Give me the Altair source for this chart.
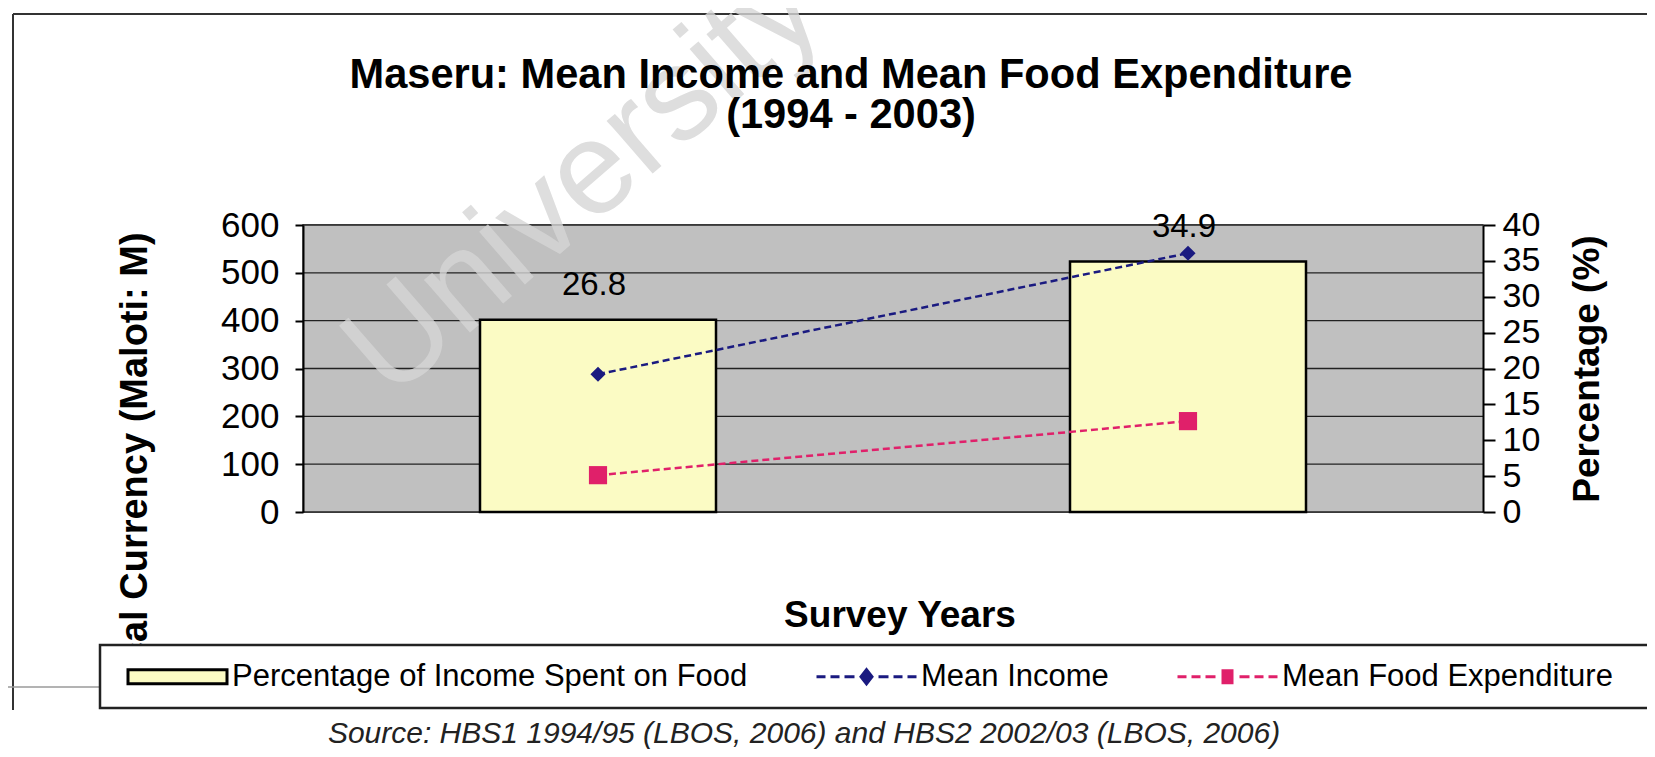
import altair as alt
import pandas as pd

# ---------------- data ----------------
years = ["1994/5", "2002/3"]
pct_income_on_food = [26.8, 34.9]          # right axis (%)
mean_income = [288, 541]                   # left axis (Maloti)
mean_food_expenditure = [77, 190]          # left axis (Maloti)

series_names = ["Percentage of Income Spent on Food", "Mean Income", "Mean Food Expenditure"]
left_ticks = [0, 100, 200, 300, 400, 500, 600]
right_ticks = [0, 5, 10, 15, 20, 25, 30, 35, 40]

title_line1 = "Maseru: Mean Income and Mean Food Expenditure"
title_line2 = "(1994 - 2003)"
x_title = "Survey Years"
source_text = "Source: HBS1 1994/95 (LBOS, 2006) and HBS2 2002/03 (LBOS, 2006)"
watermark_text = "University of Cape Town"

# ---------------- styles ----------------
FONT = "Liberation Sans"
BAR_FILL = "#fbfbc4"
NAVY = "#1a1a80"
PINK = "#e0206a"
PLOT_BG = "#c0c0c0"
series_fill = [BAR_FILL, NAVY, PINK]
series_stroke = ["#000000", NAVY, PINK]
# custom legend symbols (unit = sqrt(symbolSize)/2 px)
dash = "M-5.0,0H-4.1M-3.6,0H-2.7M-2.2,0H-1.2M1.2,0H2.2M2.7,0H3.6M4.1,0H5.0"
series_shape = [
    "M-4.95,-0.7H4.95V0.7H-4.95Z",
    dash + "M0,-0.7L0.55,0L0,0.7L-0.55,0Z",
    dash + "M-0.45,-0.6H0.45V0.6H-0.45Z",
]

df = pd.DataFrame({
    "year": years,
    "pct": pct_income_on_food,
    "income": mean_income,
    "food": mean_food_expenditure,
})
legend_df = pd.DataFrame({"series": series_names})
grid_df = pd.DataFrame({"v": left_ticks})
one = pd.DataFrame({"k": [0]})

x_scale = alt.Scale(type="band", domain=years, paddingInner=0, paddingOuter=0)
x_axis = alt.Axis(
    title=None, labelAngle=0, tickBand="extent", tickSize=10, tickWidth=2,
    tickColor="black", domainColor="black", domainWidth=2, zindex=1,
    labelFont=FONT, labelFontSize=31, labelColor="black", labelPadding=38,
    labelBaseline="middle", grid=False,
)
x_plain = alt.X("year:N", scale=x_scale, axis=None, bandPosition=0.5)

left_scale = alt.Scale(domain=[0, 600], nice=False, zero=True)
right_scale = alt.Scale(domain=[0, 40], nice=False, zero=True)

background = alt.Chart(one).mark_rect(color=PLOT_BG).encode(
    x=alt.value(0), x2=alt.value("width"), y=alt.value(0), y2=alt.value("height"))

grid = alt.Chart(grid_df).mark_rule(color="#222222", strokeWidth=1.4).encode(
    y=alt.Y("v:Q", scale=left_scale, axis=None))

bars = alt.Chart(df).mark_bar(
    width=alt.RelativeBandSize(0.4), fill=BAR_FILL, stroke="black", strokeWidth=2.5
).encode(
    x=alt.X("year:N", scale=x_scale, axis=x_axis),
    y=alt.Y("pct:Q", scale=right_scale, axis=alt.Axis(
        orient="right", values=right_ticks, grid=False, title="Percentage (%)", zindex=1,
        tickSize=12, tickWidth=2, tickColor="black", domainColor="black", domainWidth=2,
        labelFont=FONT, labelFontSize=34, labelColor="black", labelPadding=7,
        labelOverlap=False, labelFlush=False,
        titleFont=FONT, titleFontSize=37, titleFontWeight="bold", titleColor="black",
        titleAngle=270, titleBaseline="middle", titleAlign="center", titleX=104, titleY=143.5,
    )),
)

bar_labels = alt.Chart(df).mark_text(
    dy=-35, dx=-4, font=FONT, fontSize=33, color="black", baseline="middle"
).encode(
    x=x_plain,
    y=alt.Y("pct:Q", scale=right_scale, axis=None),
    text=alt.Text("pct:Q", format=".1f"),
)

income_line = alt.Chart(df).mark_line(
    color=NAVY, strokeDash=[7, 4], strokeWidth=2.5
).encode(
    x=x_plain,
    y=alt.Y("income:Q", scale=left_scale, axis=alt.Axis(
        orient="left", values=left_ticks, grid=False, zindex=1,
        title="Local Currency (Maloti: M)",
        tickSize=8, tickWidth=2, tickColor="black", domainColor="black", domainWidth=2,
        labelFont=FONT, labelFontSize=35, labelColor="black", labelPadding=16,
        labelOverlap=False, labelFlush=False,
        titleFont=FONT, titleFontSize=38, titleFontWeight="bold", titleColor="black",
        titleAngle=270, titleBaseline="middle", titleAlign="center", titleX=-168, titleY=245.5,
    )),
)
income_pts = alt.Chart(df).mark_point(
    shape="diamond", filled=True, size=230, color=NAVY, opacity=1
).encode(x=x_plain, y=alt.Y("income:Q", scale=left_scale, axis=None))

food_line = alt.Chart(df).mark_line(
    color=PINK, strokeDash=[7, 4], strokeWidth=2.5
).encode(x=x_plain, y=alt.Y("food:Q", scale=left_scale, axis=None))
food_pts = alt.Chart(df).mark_point(
    shape="square", filled=True, size=330, color=PINK, opacity=1
).encode(x=x_plain, y=alt.Y("food:Q", scale=left_scale, axis=None))

legend_kw = dict(
    orient="none", legendX=-203, legendY=420, direction="horizontal", columns=3,
    title=" ", titleOrient="right", titlePadding=26, titleFontSize=4,
    fillColor="white", strokeColor="#222222", padding=16, zindex=2,
    symbolSize=400, symbolStrokeWidth=3, symbolOffset=46, labelOffset=39,
    symbolFillColor="white",
    labelFont=FONT, labelFontSize=31, labelColor="black", labelLimit=2000,
    columnPadding=57,
)
legend_layer = alt.Chart(legend_df).mark_point(filled=True, opacity=0).encode(
    fill=alt.Fill("series:N", scale=alt.Scale(domain=series_names, range=series_fill),
                  legend=alt.Legend(**legend_kw)),
    stroke=alt.Stroke("series:N", scale=alt.Scale(domain=series_names, range=series_stroke),
                      legend=alt.Legend(**legend_kw)),
    shape=alt.Shape("series:N", scale=alt.Scale(domain=series_names, range=series_shape),
                    legend=alt.Legend(**legend_kw)),
)

frame_top = alt.Chart(one).mark_rule(color="#333333", strokeWidth=2).encode(
    x=alt.value(-290), x2=alt.value(1360), y=alt.value(-211))
frame_left = alt.Chart(one).mark_rule(color="#333333", strokeWidth=2).encode(
    x=alt.value(-290), y=alt.value(-211), y2=alt.value(485))
page_line = alt.Chart(one).mark_rule(color="#9a9a9a", strokeWidth=1.5).encode(
    x=alt.value(-296), x2=alt.value(-203), y=alt.value(462))

x_title_text = alt.Chart(one).mark_text(
    text=x_title, font=FONT, fontSize=37, fontWeight="bold", color="black",
    align="center", baseline="middle"
).encode(x=alt.value(597), y=alt.value(391))

source = alt.Chart(one).mark_text(
    text=source_text, font=FONT, fontSize=30, fontStyle="italic", color="#222222",
    align="center", baseline="middle"
).encode(x=alt.value(501), y=alt.value(509))

watermark = alt.Chart(one).mark_text(
    text=watermark_text, font=FONT, fontSize=132, color="#d6d6d6", opacity=0.8,
    angle=319, align="left", baseline="alphabetic"
).encode(x=alt.value(88), y=alt.value(176))

title1 = alt.Chart(one).mark_text(
    text=title_line1, font=FONT, fontSize=41.6, fontWeight="bold", color="black",
    align="center", baseline="middle"
).encode(x=alt.value(548), y=alt.value(-149))
title2 = alt.Chart(one).mark_text(
    text=title_line2, font=FONT, fontSize=41.6, fontWeight="bold", color="black",
    align="center", baseline="middle"
).encode(x=alt.value(548), y=alt.value(-109))

chart = alt.layer(
    background, grid, bars, bar_labels, income_line, income_pts, food_line, food_pts,
    legend_layer, frame_top, frame_left, page_line, x_title_text, source, watermark,
    title1, title2,
).resolve_scale(
    y="independent"
).properties(
    width=1180, height=287,
    padding={"left": 295, "top": 217, "right": 164, "bottom": 237},
    autosize="none",
    background="white",
).configure_view(
    fill=PLOT_BG, stroke="#808080", strokeWidth=2
).configure_legend(
    strokeWidth=2.5
)

chart.save("out.html", embed_options={"renderer": "svg", "actions": False})
